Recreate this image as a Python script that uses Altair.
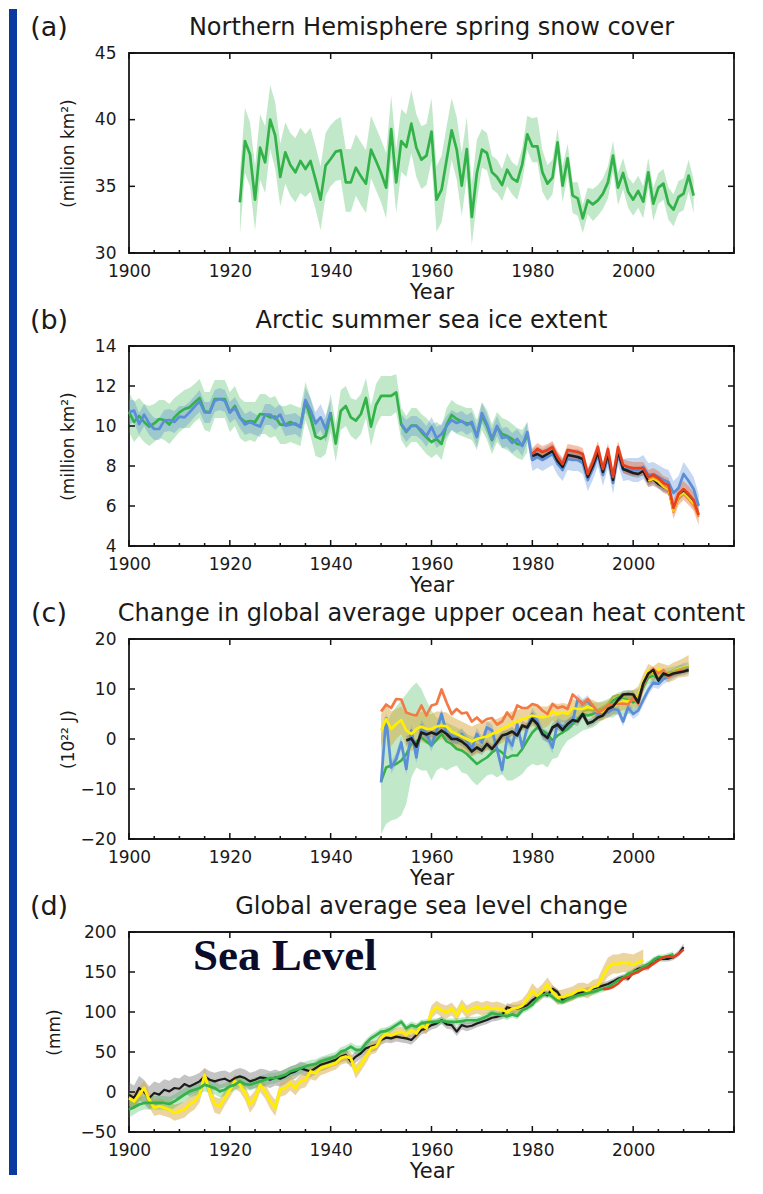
import altair as alt
import pandas as pd

# ---------------- texts / axes ----------------
PANEL_LABELS = ["(a)", "(b)", "(c)", "(d)"]
PANEL_TITLES = ["Northern Hemisphere spring snow cover",
                "Arctic summer sea ice extent",
                "Change in global average upper ocean heat content",
                "Global average sea level change"]
Y_TITLES = ["(million km²)", "(million km²)", "(10²² J)", "(mm)"]
Y_DOMAINS = [[30, 45], [4, 14], [-20, 20], [-50, 200]]
Y_TICKS = [[30, 35, 40, 45], [4, 6, 8, 10, 12, 14], [-20, -10, 0, 10, 20], [-50, 0, 50, 100, 150, 200]]
X_LABELS = [1900, 1920, 1940, 1960, 1980, 2000]
X_MAJOR = [1900, 1920, 1940, 1960, 1980, 2000, 2020]
X_MINOR = [1905, 1910, 1915, 1925, 1930, 1935, 1945, 1950, 1955, 1965, 1970, 1975,
           1985, 1990, 1995, 2005, 2010, 2015]
ANNOTATION = "Sea Level"

# ---------------- (a) snow cover ----------------
SNOW_YEARS = list(range(1922, 2013))
SNOW = [33.8, 38.4, 37.4, 34.0, 37.9, 36.8, 40.0, 38.8, 35.7, 37.55,
        36.6, 36.05, 36.9, 36.3, 36.9, 35.5, 34.0, 36.55, 37.05, 37.6,
        37.7, 35.3, 35.3, 36.4, 35.75, 35.2, 37.75, 36.9, 36.0, 34.9,
        39.3, 35.3, 38.4, 37.95, 39.7, 37.9, 37.0, 37.3, 39.1, 34.0,
        34.75, 37.0, 39.2, 37.75, 35.05, 37.8, 32.7, 36.0, 37.75, 37.5,
        36.05, 35.7, 35.1, 36.25, 35.6, 35.35, 36.65, 38.9, 38.0, 38.0,
        36.05, 35.2, 35.65, 38.3, 35.05, 37.1, 34.3, 34.1, 32.6, 33.95,
        33.65, 33.95, 34.45, 35.3, 37.3, 34.9, 36.0, 34.6, 34.0, 34.65,
        33.85, 36.05, 33.7, 34.9, 35.2, 33.7, 33.25, 34.2, 34.45, 35.8,
        34.3]
SNOW_HI = [36.0, 40.9, 39.8, 36.5, 40.4, 39.5, 42.6, 41.3, 38.2, 39.8,
           39.0, 38.6, 39.4, 38.9, 39.4, 38.0, 36.5, 39.0, 39.6, 40.0,
           40.2, 37.8, 37.8, 38.9, 38.3, 37.7, 40.3, 39.4, 38.5, 37.5,
           41.8, 37.8, 40.8, 40.4, 42.2, 40.4, 39.5, 39.7, 41.6, 36.5,
           37.3, 39.5, 41.6, 40.2, 37.5, 40.2, 35.2, 38.5, 39.3, 39.0,
           37.3, 37.0, 36.3, 37.5, 36.8, 36.5, 37.9, 40.3, 40.1, 40.2,
           37.7, 36.6, 37.0, 39.3, 36.5, 38.2, 35.3, 35.3, 33.6, 34.9,
           34.8, 35.1, 35.6, 36.5, 38.4, 36.0, 37.1, 35.7, 35.2, 35.8,
           35.0, 37.1, 34.9, 36.0, 36.3, 34.9, 34.4, 35.4, 35.6, 37.0,
           35.5]
SNOW_LO = [31.4, 36.0, 35.0, 31.7, 35.5, 34.5, 37.8, 36.3, 33.5, 35.2,
           34.3, 33.8, 34.5, 34.2, 34.6, 33.3, 31.7, 34.3, 35.0, 35.4,
           35.5, 33.1, 33.1, 34.3, 33.6, 33.0, 35.6, 34.7, 33.8, 32.6,
           37.1, 33.0, 36.1, 35.7, 37.5, 35.7, 34.8, 35.1, 36.9, 31.6,
           32.3, 34.7, 37.0, 35.5, 32.8, 35.6, 30.6, 33.9, 36.4, 36.2,
           34.8, 34.5, 33.9, 35.0, 34.4, 34.0, 35.4, 37.7, 36.8, 36.8,
           34.6, 33.9, 34.4, 37.2, 33.8, 35.8, 33.0, 32.8, 31.5, 32.9,
           32.4, 32.8, 33.3, 34.1, 36.1, 33.6, 34.8, 33.4, 32.8, 33.4,
           32.6, 34.9, 32.4, 33.7, 34.0, 32.5, 32.0, 33.0, 33.2, 34.6,
           33.0]

# ---------------- (b) Arctic sea ice ----------------
ICE_GREEN_YEARS = list(range(1900, 1980))
ICE_GREEN = [10.7, 10.2, 10.5, 10.2, 9.97, 10.13, 10.35, 10.3, 10.07, 10.43,
             10.68, 10.85, 10.93, 11.18, 11.4, 10.73, 10.68, 11.35, 11.35, 11.35,
             10.68, 11.0, 10.43, 10.2, 10.25, 10.2, 10.6, 10.57, 10.43, 10.47,
             10.07, 10.07, 10.2, 10.07, 9.97, 11.26, 10.43, 9.47, 9.36, 9.52,
             10.65, 9.12, 10.75, 11.0, 10.43, 10.27, 10.6, 11.4, 9.97, 11.05,
             11.51, 11.51, 11.51, 11.68, 10.07, 9.7, 10.02, 10.02, 9.7, 9.44,
             9.2, 9.35, 9.1, 10.07, 10.55, 10.35, 10.23, 10.13, 10.1, 9.5,
             10.5, 10.0, 9.3, 9.95, 9.6, 9.5, 9.35, 9.1, 9.05, 9.5]
ICE_GREEN_HI = [11.7, 11.2, 11.4, 11.1, 11.0, 11.1, 11.3, 11.3, 11.1, 11.4,
                11.6, 11.8, 11.9, 12.1, 12.35, 11.7, 11.7, 12.3, 12.3, 12.3,
                11.7, 12.0, 11.4, 11.2, 11.2, 11.2, 11.6, 11.6, 11.4, 11.5,
                11.0, 11.0, 11.1, 11.0, 10.9, 12.2, 11.4, 10.4, 10.2, 10.4,
                11.6, 10.1, 11.8, 12.0, 11.4, 11.3, 11.6, 12.4, 11.0, 12.1,
                12.5, 12.5, 12.5, 12.6, 10.9, 10.5, 10.9, 10.9, 10.6, 10.4,
                10.1, 10.2, 10.0, 10.9, 11.3, 11.1, 11.0, 10.9, 10.9, 10.3,
                11.2, 10.8, 10.1, 10.7, 10.4, 10.3, 10.1, 9.9, 9.8, 10.2]
ICE_GREEN_LO = [9.7, 9.2, 9.5, 9.2, 9.0, 9.2, 9.4, 9.3, 9.1, 9.4,
                9.7, 9.9, 9.9, 10.2, 10.4, 9.8, 9.7, 10.4, 10.4, 10.4,
                9.7, 10.0, 9.4, 9.2, 9.3, 9.2, 9.6, 9.6, 9.4, 9.5,
                9.1, 9.1, 9.2, 9.1, 9.0, 10.3, 9.5, 8.5, 8.4, 8.6,
                9.7, 8.2, 9.8, 10.0, 9.5, 9.3, 9.6, 10.4, 9.0, 10.0,
                10.5, 10.5, 10.5, 10.7, 9.3, 8.9, 9.2, 9.2, 8.9, 8.6,
                8.4, 8.6, 8.3, 9.3, 9.8, 9.6, 9.5, 9.4, 9.3, 8.8,
                9.8, 9.3, 8.6, 9.2, 8.9, 8.8, 8.6, 8.4, 8.3, 8.7]
ICE_BLUE1_YEARS = list(range(1900, 1941))
ICE_BLUE1 = [10.7,
             10.77, 10.1, 10.57, 10.13, 9.85, 9.85, 10.27, 10.3, 10.2, 10.47,
             10.43, 10.68, 10.97, 11.23, 10.68, 10.68, 11.26, 11.35, 11.26, 10.68,
             10.9, 10.43, 10.07, 10.2, 10.07, 9.97, 10.57, 10.57, 10.35, 10.57,
             10.02, 10.07, 10.13, 9.93, 11.3, 10.8, 10.13, 10.43, 9.85, 10.68]
ICE_BLUE1_HI = [11.3,
                11.3, 10.65, 11.1, 10.7, 10.4, 10.4, 10.8, 10.85, 10.75, 11.0,
                11.0, 11.2, 11.5, 11.8, 11.2, 11.2, 11.8, 11.9, 11.8, 11.2,
                11.45, 11.0, 10.6, 10.75, 10.6, 10.5, 11.1, 11.1, 10.9, 11.1,
                10.55, 10.6, 10.65, 10.45, 11.9, 11.4, 10.7, 11.1, 10.5, 11.3]
ICE_BLUE1_LO = [10.1,
                10.2, 9.55, 10.0, 9.55, 9.3, 9.3, 9.7, 9.75, 9.65, 9.9,
                9.9, 10.15, 10.45, 10.7, 10.15, 10.15, 10.7, 10.8, 10.7, 10.15,
                10.35, 9.9, 9.55, 9.65, 9.55, 9.45, 10.05, 10.05, 9.8, 10.05,
                9.5, 9.55, 9.6, 9.4, 10.7, 10.2, 9.5, 9.8, 9.2, 10.0]
ICE_BLUE2_YEARS = list(range(1954, 2014))
ICE_BLUE2 = [10.1, 9.75, 10.0, 10.0, 9.8, 9.5, 9.95, 9.4, 9.6, 10.0,
             10.3, 10.15, 10.25, 10.05, 10.2, 9.45, 10.65, 10.1, 9.35, 10.0,
             9.4, 9.45, 9.15, 9.35, 9.0, 9.7,
             8.3, 8.45, 8.3, 8.45, 8.6, 8.1, 7.8, 8.35, 8.3, 8.3,
             8.15, 7.3, 7.85, 8.55, 7.55, 8.45, 7.15, 8.6, 7.8, 7.85,
             7.8, 7.8, 7.95, 7.55, 7.6, 7.45, 7.3, 7.2, 6.65, 6.9,
             7.6, 7.25, 6.85, 6.0]
ICE_BLUE2_HI = [10.6, 10.3, 10.5, 10.5, 10.3, 10.0, 10.45, 9.95, 10.1, 10.5,
                10.8, 10.65, 10.75, 10.55, 10.7, 10.0, 11.15, 10.6, 9.85, 10.5,
                9.9, 9.95, 9.65, 9.85, 9.5, 10.2,
                8.85, 9.0, 8.85, 9.0, 9.15, 8.65, 8.35, 8.9, 8.85, 8.85,
                8.7, 7.85, 8.4, 9.1, 8.1, 9.0, 7.7, 9.15, 8.35, 8.4,
                8.4, 8.4, 8.55, 8.15, 8.2, 8.05, 7.9, 7.8, 7.25, 7.5,
                8.2, 7.85, 7.45, 6.6]
ICE_BLUE2_LO = [9.6, 9.2, 9.5, 9.5, 9.3, 8.95, 9.45, 8.9, 9.1, 9.5,
                9.8, 9.65, 9.75, 9.55, 9.7, 8.95, 10.15, 9.6, 8.85, 9.5,
                8.9, 8.95, 8.65, 8.85, 8.5, 9.2,
                7.75, 7.9, 7.75, 7.9, 8.05, 7.55, 7.25, 7.8, 7.75, 7.75,
                7.6, 6.75, 7.3, 8.0, 7.0, 7.9, 6.6, 8.05, 7.25, 7.3,
                7.2, 7.2, 7.35, 6.95, 7.0, 6.85, 6.7, 6.6, 6.05, 6.3,
                7.0, 6.65, 6.25, 5.4]
ICE_RED_YEARS = list(range(1980, 2014))
ICE_RED = [8.6, 8.85, 8.7, 8.8, 8.95, 8.45, 8.1, 8.8, 8.75, 8.7,
           8.6, 7.6, 8.2, 8.95, 7.85, 8.85, 7.45, 8.95, 8.05, 7.95,
           7.9, 7.9, 7.9, 7.45, 7.55, 7.4, 7.15, 7.05, 5.9, 6.6,
           6.85, 6.6, 6.3, 5.55]
ICE_RED_HI = [8.9, 9.15, 9.0, 9.1, 9.25, 8.75, 8.4, 9.1, 9.05, 9.0,
              8.9, 7.9, 8.5, 9.25, 8.15, 9.15, 7.75, 9.25, 8.35, 8.25,
              8.2, 8.2, 8.2, 7.8, 7.9, 7.75, 7.5, 7.4, 6.3, 7.0,
              7.25, 7.0, 6.7, 5.95]
ICE_RED_LO = [8.2, 8.45, 8.3, 8.4, 8.55, 8.05, 7.7, 8.4, 8.35, 8.3,
              8.2, 7.2, 7.8, 8.55, 7.45, 8.45, 7.05, 8.55, 7.65, 7.55,
              7.5, 7.5, 7.5, 6.95, 7.05, 6.9, 6.65, 6.55, 5.35, 6.05,
              6.3, 6.05, 5.75, 5.05]
ICE_BLACK_YEARS = list(range(1980, 2013))
ICE_BLACK = [8.5, 8.6, 8.45, 8.6, 8.75, 8.25, 7.95, 8.55, 8.5, 8.45,
             8.35, 7.45, 8.0, 8.7, 7.7, 8.6, 7.3, 8.75, 7.85, 7.75,
             7.65, 7.6, 7.75, 7.25, 7.35, 7.1, 6.95, 6.85, 5.8, 6.45,
             6.7, 6.45, 6.1]
ICE_BLACK_HI = [8.7, 8.8, 8.65, 8.8, 8.95, 8.45, 8.15, 8.75, 8.7, 8.65,
                8.55, 7.65, 8.2, 8.9, 7.9, 8.8, 7.5, 8.95, 8.05, 7.95,
                7.85, 7.8, 7.95, 7.45, 7.55, 7.3, 7.15, 7.05, 6.0, 6.65,
                6.9, 6.65, 6.3]
ICE_BLACK_LO = [8.3, 8.4, 8.25, 8.4, 8.55, 8.05, 7.75, 8.35, 8.3, 8.25,
                8.15, 7.25, 7.8, 8.5, 7.5, 8.4, 7.1, 8.55, 7.65, 7.55,
                7.45, 7.4, 7.55, 7.05, 7.15, 6.9, 6.75, 6.65, 5.6, 6.25,
                6.5, 6.25, 5.9]
ICE_YELLOW_YEARS = list(range(2003, 2013))
ICE_YELLOW = [7.25, 7.35, 7.2, 6.95, 6.8, 5.75, 6.45, 6.65, 6.4, 6.1]
ICE_ORANGE_YEARS = list(range(2003, 2014))
ICE_ORANGE = [7.35, 7.45, 7.3, 7.05, 6.9, 5.7, 6.4, 6.6, 6.35, 6.05, 5.45]

# ---------------- (c) ocean heat content ----------------
OHC_YEARS = list(range(1950, 2012))
OHC_GREEN = [-8.5, -5.7, -5.3, -5.0, -4.3, -3.0, -1.0, -0.5, 0.3, -0.5,
             -1.3, -0.2, 1.0, -0.5, -1.0, -2.0, -2.3, -3.0, -4.0, -5.0,
             -4.3, -3.7, -2.7, -2.0, -2.7, -3.8, -3.3, -3.3, -2.0, -0.3,
             1.3, 2.3, 1.7, 1.0, -0.3, 0.7, 1.3, 2.0, 3.0, 4.0,
             5.0, 4.7, 5.0, 5.5, 5.8, 6.7, 7.7, 8.3, 8.3, 8.0,
             7.3, 8.0, 10.3, 12.3, 12.7, 12.0, 12.7, 13.0, 13.3, 13.7,
             13.9, 14.0]
OHC_GREEN_HI = [1.0, 3.0, 5.0, 6.5, 7.7, 9.0, 10.3, 11.3, 10.0, 7.7,
                5.7, 4.3, 3.8, 3.3, 2.8, 2.3, 1.8, 1.0, 0.6, 0.3,
                0.6, 1.0, 1.0, 1.0, 1.3, 1.7, 1.7, 1.7, 2.5, 3.3,
                3.8, 4.3, 4.3, 4.3, 4.5, 4.7, 5.0, 5.3, 6.0, 6.7,
                7.0, 7.3, 7.3, 7.3, 7.6, 8.0, 8.6, 9.3, 9.5, 9.7,
                9.8, 10.0, 11.5, 13.3, 13.5, 13.7, 14.0, 14.3, 14.5, 14.7,
                14.8, 15.0]
OHC_GREEN_LO = [-19.0, -17.0, -16.3, -16.0, -15.3, -13.0, -7.7, -5.7, -6.3, -6.3,
                -8.3, -6.3, -5.7, -6.3, -5.7, -5.3, -6.7, -7.0, -8.3, -9.3,
                -8.3, -7.3, -7.0, -7.7, -7.0, -8.3, -8.3, -7.7, -7.0, -5.7,
                -5.0, -5.3, -5.0, -5.7, -4.0, -3.7, -1.7, -0.3, 0.3, 1.0,
                1.7, 2.0, 2.3, 3.0, 4.0, 4.3, 4.3, 5.0, 4.7, 5.0,
                5.3, 6.0, 9.0, 11.0, 11.3, 11.0, 11.7, 12.3, 12.7, 13.0,
                13.3, 13.3]
OHC_BLUE = [-8.7, 4.2, -5.7, -4.0, -0.7, -6.0, 1.7, -3.7, 2.7, 1.0,
            -1.3, 1.7, 5.0, 1.0, 0.7, 0.0, 1.0, -0.3, -2.0, 1.0,
            -0.7, 2.3, 1.7, -2.0, -6.2, 0.3, -1.3, 2.9, -1.7, 2.3,
            5.0, 3.5, 1.0, 0.5, -1.7, 3.1, 2.5, 2.7, 3.5, 8.0,
            7.0, 7.8, 6.0, 5.0, 5.7, 5.3, 6.0, 5.8, 3.5, 6.3,
            5.0, 5.7, 7.8, 9.8, 11.3, 11.0, 12.0, 12.5, 13.1, 13.7,
            14.2, 14.3]
OHC_BLUE_HI = [-7.5, 5.4, -4.5, -2.8, 0.5, -4.8, 2.9, -2.5, 3.9, 2.2,
               -0.1, 2.9, 6.2, 2.2, 1.9, 1.2, 2.2, 0.9, -0.8, 2.2,
               0.5, 3.5, 2.9, -0.8, -5.0, 1.5, -0.1, 4.1, -0.5, 3.5,
               6.2, 4.7, 2.2, 1.7, -0.5, 4.3, 3.7, 3.9, 4.7, 9.0,
               8.0, 8.8, 7.0, 6.0, 6.7, 6.3, 7.0, 6.8, 4.5, 7.3,
               6.0, 6.7, 8.8, 10.8, 12.3, 12.0, 13.0, 13.5, 14.1, 14.7,
               15.2, 15.3]
OHC_BLUE_LO = [-9.9, 3.0, -6.9, -5.2, -1.9, -7.2, 0.5, -4.9, 1.5, -0.2,
               -2.5, 0.5, 3.8, -0.2, -0.5, -1.2, -0.2, -1.5, -3.2, -0.2,
               -1.9, 1.1, 0.5, -3.2, -7.4, -0.9, -2.5, 1.7, -2.9, 1.1,
               3.8, 2.3, -0.2, -0.7, -2.9, 1.9, 1.3, 1.5, 2.3, 7.0,
               6.0, 6.8, 5.0, 4.0, 4.7, 4.3, 5.0, 4.8, 2.5, 5.3,
               4.0, 4.7, 6.8, 8.8, 10.3, 10.0, 11.0, 11.5, 12.1, 12.7,
               13.2, 13.3]
OHC_YELLOW = [1.7, 4.0, 2.0, 3.0, 3.8, 1.7, 1.0, 2.0, 2.5, 2.0,
              2.0, 2.5, 2.7, 2.5, 1.5, 1.0, 0.5, 0.0, -0.5, 0.0,
              0.3, 0.5, 1.0, 1.5, 2.0, 2.5, 3.1, 3.5, 4.0, 4.3,
              4.7, 4.5, 4.3, 4.5, 5.5, 5.0, 5.3, 5.0, 6.2, 6.0,
              6.0, 6.5, 6.0, 5.5, 5.5, 6.0, 6.5, 7.0, 7.5, 7.5,
              8.0, 8.5, 11.3, 13.7, 13.0, 14.0, 13.5, 13.0, 13.5, 14.0,
              14.3, 14.7]
OHC_YELLOW_HI = [5.0, 7.0, 5.5, 6.0, 6.5, 5.0, 4.5, 5.0, 5.5, 5.0,
                 5.0, 5.5, 5.5, 5.3, 4.5, 4.0, 3.5, 3.0, 2.5, 3.0,
                 3.3, 3.5, 3.8, 4.0, 4.5, 5.0, 5.5, 5.8, 6.2, 6.5,
                 6.8, 6.7, 6.5, 6.5, 7.3, 7.0, 7.2, 7.0, 8.0, 7.8,
                 7.8, 8.2, 7.8, 7.3, 7.3, 7.7, 8.2, 8.7, 9.2, 9.3,
                 9.8, 10.5, 13.0, 15.0, 14.5, 15.3, 15.0, 14.7, 15.3, 15.7,
                 16.2, 16.8]
OHC_YELLOW_LO = [-1.5, 1.0, -1.5, 0.0, 1.0, -1.5, -2.5, -1.0, -0.5, -1.0,
                 -1.0, -0.5, 0.0, -0.5, -1.5, -2.0, -2.5, -3.0, -3.5, -3.0,
                 -2.7, -2.3, -1.8, -1.3, -0.8, -0.2, 0.7, 1.2, 1.8, 2.1,
                 2.6, 2.3, 2.1, 2.5, 3.7, 3.0, 3.4, 3.0, 4.4, 4.2,
                 4.2, 4.8, 4.2, 3.7, 3.7, 4.3, 4.8, 5.3, 5.8, 5.7,
                 6.2, 6.5, 9.6, 12.3, 11.5, 12.7, 12.0, 11.3, 11.7, 12.3,
                 12.4, 12.6]
OHC_ORANGE = [5.5, 6.9, 6.2, 8.0, 7.9, 5.3, 4.9, 4.7, 6.7, 4.7,
              6.7, 7.0, 9.9, 7.3, 5.0, 6.0, 5.1, 5.3, 3.5, 4.3,
              3.3, 4.0, 4.2, 2.9, 3.5, 5.3, 4.0, 6.7, 6.2, 6.2,
              7.0, 6.7, 5.7, 5.0, 7.0, 6.2, 6.5, 6.0, 8.9, 8.0,
              6.9, 8.0, 6.7, 5.3, 5.8, 6.7, 7.0, 7.0, 7.1, 6.9,
              8.3, 7.0, 10.7, 13.0, 14.0, 13.1, 13.8, 12.3, 13.0, 13.5,
              13.8, 13.8]
OHC_BLACK_YEARS = list(range(1955, 2012))
OHC_BLACK = [-0.3, 0.1, -1.5, 1.3, 0.9,
             1.3, 0.9, 1.7, 1.0, 0.0, 0.0, -0.5, -1.3, -2.5, -1.7,
             -2.3, -1.0, -2.0, -0.7, 0.7, 1.0, 1.5, 0.7, 2.7, 2.3,
             4.0, 3.0, 1.0, 0.2, 2.3, 2.9, 1.8, 3.0, 3.8, 3.5,
             5.0, 3.1, 3.5, 4.3, 4.7, 6.0, 6.5, 7.8, 8.9, 9.0,
             8.9, 7.3, 11.1, 13.1, 13.8, 11.7, 13.1, 12.7, 13.1, 13.3,
             13.5, 13.8]
OHC_BLACK_HI = [0.6, 1.0, -0.6, 2.2, 1.8,
                2.2, 1.8, 2.6, 1.9, 0.9, 0.9, 0.4, -0.4, -1.6, -0.8,
                -1.4, -0.1, -1.1, 0.2, 1.6, 1.9, 2.4, 1.6, 3.6, 3.2,
                4.9, 3.9, 1.9, 1.1, 3.2, 3.8, 2.7, 3.9, 4.7, 4.4,
                5.8, 3.9, 4.3, 5.1, 5.5, 6.8, 7.3, 8.6, 9.7, 9.8,
                9.6, 8.0, 11.8, 13.8, 14.5, 12.4, 13.8, 13.4, 13.8, 14.0,
                14.2, 14.5]
OHC_BLACK_LO = [-1.2, -0.8, -2.4, 0.4, 0.0,
                0.4, 0.0, 0.8, 0.1, -0.9, -0.9, -1.4, -2.2, -3.4, -2.6,
                -3.2, -1.9, -2.9, -1.6, -0.2, 0.1, 0.6, -0.2, 1.8, 1.4,
                3.1, 2.1, 0.1, -0.7, 1.4, 2.0, 0.9, 2.1, 2.9, 2.6,
                4.2, 2.3, 2.7, 3.5, 3.9, 5.2, 5.7, 7.0, 8.1, 8.2,
                8.2, 6.6, 10.4, 12.4, 13.1, 11.0, 12.4, 12.0, 12.4, 12.6,
                12.8, 13.1]
OHC_OLIVE_YEARS = list(range(1990, 2012))
OHC_OLIVE = [5.5, 5.8, 5.7, 5.8, 6.3, 7.0, 8.5, 8.8, 8.5, 8.2, 7.8,
             8.3, 10.8, 12.8, 13.0, 12.3, 13.0, 13.3, 13.5, 13.9, 14.2, 14.5]

# ---------------- (d) sea level ----------------
SL_BLACK_YEARS = list(range(1900, 2011))
SL_BLACK = [-3.3, -7.5, 5.0, 0.0, -7.5, -1.2, -3.3, 2.9, 0.8, 5.0,
            4.1, 9.9, 7.0, 9.9, 13.3, 19.5, 15.3, 13.3, 15.3, 16.6,
            13.3, 17.4, 19.5, 17.4, 13.3, 15.3, 18.2, 17.4, 15.3, 18.2,
            16.6, 19.5, 23.6, 25.7, 29.8, 27.7, 25.7, 29.8, 34.0, 36.0,
            38.1, 40.2, 44.3, 46.4, 38.1, 44.3, 48.4, 54.7, 56.7, 58.8,
            65.0, 67.9, 67.0, 69.2, 68.0, 67.0, 65.0, 71.2, 77.4, 79.5,
            83.6, 85.7, 89.9, 84.5, 83.6, 75.4, 83.6, 81.6, 82.8, 85.7,
            87.8, 89.9, 92.8, 94.0, 96.0, 106.0, 104.0, 104.0, 106.0, 108.5,
            114.7, 118.8, 125.0, 121.0, 129.0, 125.0, 114.7, 116.8, 118.8, 123.0,
            125.0, 127.0, 129.0, 131.0, 133.0, 135.0, 138.0, 141.6, 143.7, 141.6,
            150.0, 154.0, 156.0, 156.0, 164.0, 166.5, 166.5, 166.5, 168.5, 172.7,
            181.0]
SL_BLACK_HI = [12, 8, 20, 15, 7, 13, 11, 16, 14, 18,
               17, 22, 19, 21, 24, 30, 26, 24, 26, 27,
               24, 28, 30, 28, 24, 26, 29, 28, 26, 28,
               26, 29, 32, 34, 38, 36, 34, 38, 42, 44,
               45, 47, 51, 53, 45, 51, 55, 61, 63, 65,
               71, 74, 73, 75, 74, 73, 71, 77, 83, 85,
               89, 91, 95, 90, 89, 81, 89, 87, 88, 91,
               93, 95, 98, 99, 101, 111, 109, 109, 111, 113,
               119, 123, 129, 125, 133, 129, 119, 121, 123, 127,
               129, 131, 133, 135, 137, 139, 142, 145, 147, 145,
               154, 158, 160, 160, 168, 170, 170, 170, 172, 177,
               186]
SL_BLACK_LO = [-18, -22, -10, -15, -22, -16, -18, -11, -13, -8,
               -8, -2, -5, -2, 2, 8, 4, 2, 4, 6,
               3, 7, 9, 7, 3, 5, 8, 7, 5, 8,
               7, 10, 15, 17, 22, 20, 18, 22, 26, 28,
               31, 33, 37, 39, 31, 37, 42, 48, 50, 52,
               59, 62, 61, 63, 62, 61, 59, 65, 72, 74,
               78, 80, 85, 79, 78, 70, 78, 76, 78, 81,
               83, 85, 88, 89, 91, 101, 99, 99, 101, 104,
               110, 115, 121, 117, 125, 121, 111, 113, 115, 119,
               121, 123, 125, 127, 129, 131, 134, 138, 140, 138,
               146, 150, 152, 152, 160, 163, 163, 163, 165, 169,
               176]
SL_YELLOW_YEARS = list(range(1900, 2003))
SL_YELLOW = [-7.5, -11.6, -3.3, 5.0, -9.5, -19.9, -17.8, -19.9, -21.9, -26.1,
             -24.0, -21.9, -15.7, -11.6, -3.3, 21.5, 0.8, -15.7, -17.8, -7.5,
             2.9, 13.3, 9.1, -1.2, -15.7, -7.5, 9.1, 0.8, -11.6, -19.9,
             2.9, 5.0, 11.2, 5.0, 13.3, 15.3, 25.7, 23.6, 29.8, 31.9,
             34.0, 36.0, 42.2, 44.3, 42.2, 25.7, 34.0, 44.3, 54.7, 56.7,
             67.1, 73.3, 71.2, 73.3, 75.4, 71.2, 77.4, 73.3, 83.6, 79.5,
             100, 106, 102, 100, 104, 96, 108, 100, 104, 106,
             104, 106, 104, 105, 103, 100, 104, 105, 108, 116,
             127, 120, 126, 134, 125, 118, 119, 121, 123, 127,
             128, 126, 131, 133, 145, 156, 160, 160, 162, 161,
             159, 162, 165]
SL_YELLOW_HI = [2, -2, 6, 14, 0, -10, -8, -10, -12, -16,
                -14, -12, -6, -2, 6, 30, 10, -6, -8, 2,
                12, 22, 18, 8, -6, 2, 18, 10, -2, -10,
                12, 14, 20, 14, 22, 24, 34, 32, 38, 40,
                42, 44, 50, 52, 50, 34, 42, 52, 62, 64,
                74, 80, 78, 80, 82, 78, 84, 80, 90, 86,
                108, 114, 110, 108, 112, 104, 116, 108, 112, 114,
                112, 114, 112, 113, 111, 108, 112, 113, 116, 124,
                136, 129, 135, 143, 134, 127, 128, 130, 132, 136,
                137, 135, 140, 142, 156, 168, 172, 172, 174, 173,
                172, 175, 178]
SL_YELLOW_LO = [-17, -21, -13, -4, -19, -30, -28, -30, -32, -36,
                -34, -32, -26, -22, -13, 12, -9, -26, -28, -17,
                -7, 4, 0, -10, -26, -17, 0, -8, -21, -30,
                -6, -4, 2, -4, 4, 6, 16, 14, 21, 23,
                26, 28, 34, 36, 34, 17, 26, 36, 47, 49,
                60, 66, 64, 66, 68, 64, 70, 66, 76, 72,
                92, 98, 94, 92, 96, 88, 100, 92, 96, 98,
                96, 98, 96, 97, 95, 92, 96, 97, 100, 108,
                118, 111, 117, 125, 116, 109, 110, 112, 114, 118,
                119, 117, 122, 124, 134, 144, 148, 148, 150, 149,
                146, 149, 152]
SL_GREEN_YEARS = list(range(1900, 2009))
SL_GREEN = [-22.0, -19.0, -15.7, -13.7, -13.7, -13.7, -13.7, -13.7, -15.0, -11.6,
            -7.5, -3.3, 0.8, 2.9, 5.0, 9.1, 7.0, 5.0, 0.8, 2.9,
            7.0, 9.1, 13.3, 9.9, 9.1, 11.2, 13.3, 15.3, 17.4, 17.4,
            19.5, 21.5, 25.7, 27.7, 29.8, 31.9, 34.0, 34.8, 38.1, 40.2,
            42.2, 44.3, 50.5, 52.6, 56.7, 52.6, 52.6, 60.9, 67.1, 71.2,
            75.4, 76.2, 79.5, 83.6, 87.8, 79.5, 83.6, 81.6, 85.7, 87.0,
            87.8, 87.6, 89.0, 87.8, 87.6, 87.6, 88.5, 89.7, 89.7, 89.7,
            92.0, 94.6, 98.8, 97.0, 96.0, 94.6, 97.0, 95.0, 102.0, 105.0,
            109.3, 116.8, 121.0, 123.0, 118.8, 114.0, 112.4, 116.0, 118.6, 120.7,
            122.0, 123.6, 125.0, 127.0, 129.0, 131.0, 135.0, 139.5, 143.0, 147.8,
            150.0, 152.0, 156.0, 160.0, 164.4, 168.5, 168.0, 170.0, 172.3]
SL_GREEN_HI = [-12, -10, -7, -5, -5, -5, -5, -5, -6, -3,
               1, 5, 9, 11, 13, 17, 15, 13, 9, 11,
               14, 16, 20, 17, 16, 18, 20, 22, 24, 24,
               26, 28, 32, 34, 36, 38, 40, 41, 44, 46,
               48, 50, 56, 58, 62, 58, 58, 66, 72, 76,
               80, 81, 84, 88, 92, 84, 88, 86, 90, 91,
               92, 92, 93, 92, 92, 92, 93, 94, 94, 94,
               96, 99, 103, 101, 100, 99, 101, 99, 106, 109,
               113, 121, 125, 127, 123, 118, 116, 120, 122, 124,
               126, 127, 129, 131, 133, 135, 139, 143, 147, 151,
               154, 156, 160, 164, 168, 172, 172, 174, 176]
SL_GREEN_LO = [-32, -28, -24, -22, -22, -22, -22, -22, -24, -20,
               -16, -12, -7, -5, -3, 1, -1, -3, -7, -5,
               0, 2, 6, 3, 2, 4, 6, 8, 10, 11,
               13, 15, 19, 21, 23, 25, 28, 29, 32, 34,
               36, 38, 45, 47, 51, 47, 47, 55, 62, 66,
               70, 71, 75, 79, 83, 75, 79, 77, 81, 83,
               83, 83, 85, 83, 83, 83, 84, 85, 85, 85,
               88, 90, 95, 93, 92, 90, 93, 91, 98, 101,
               105, 112, 117, 119, 115, 110, 109, 112, 115, 117,
               118, 120, 121, 123, 125, 127, 131, 136, 139, 144,
               146, 148, 152, 156, 161, 165, 164, 166, 168]
SL_RED_YEARS = list(range(1994, 2011))
SL_RED = [128.4, 129.0, 131.3, 135.4, 141.6, 143.7, 147.8, 150.0, 154.0, 156.0,
          160.2, 164.4, 168.5, 169.8, 168.5, 172.7, 178.0]

# ---------------- styling ----------------
W, H = 605, 200
PITCH = 293
TXT = "#1a1a1a"
STRIP = "#0a3aa0"
SANS = "DejaVu Sans"

GREEN = "#33b249"
BLUE = "#5b8ed6"
RED = "#e8401c"
BLACK = "#1c1c1c"
ORANGE_C = "#f47a45"
YELLOW = "#ffee00"
OLIVE = "#a9b43c"
ORANGE_B = "#f28c2a"
YELLOW_B = "#f7d51c"
TAN = "#d8aa40"
GRAYB = "#6b6b6b"

XSCALE = alt.Scale(domain=[1900, 2020], nice=False, zero=False)
XAXIS = alt.Axis(title="Year", values=X_LABELS, format="d", ticks=False, domain=False,
                 grid=False, labelFlush=False, labelOverlap=False, labelPadding=10,
                 labelFont=SANS, labelFontSize=17, labelColor=TXT,
                 titleFont=SANS, titleFontSize=21, titleFontWeight="normal",
                 titleColor=TXT, titlePadding=2)
ONE = pd.DataFrame({"k": [0]})


def frame(years, **cols):
    n = min([len(years)] + [len(v) for v in cols.values()])
    d = {"year": list(years)[:n]}
    for k, v in cols.items():
        d[k] = list(v)[:n]
    return pd.DataFrame(d)


def xenc():
    return alt.X("year:Q", scale=XSCALE, axis=XAXIS)


def make_panel(i, series, extra=None, strip_end=249):
    yscale = alt.Scale(domain=Y_DOMAINS[i], nice=False, zero=False)
    title_x = -75 if i == 3 else -61
    yaxis = alt.Axis(title=Y_TITLES[i], values=Y_TICKS[i], format="d", ticks=False,
                     domain=False, grid=False, labelPadding=13,
                     labelFont=SANS, labelFontSize=17, labelColor=TXT,
                     titleFont=SANS, titleFontSize=17,
                     titleFontWeight="normal", titleColor=TXT,
                     titleX=title_x, titleY=H / 2, titleAngle=270,
                     titleAlign="center", titleBaseline="middle")

    layers = [alt.Chart(ONE).mark_rect(color=STRIP).encode(
        x=alt.value(-120), x2=alt.value(-112), y=alt.value(-44), y2=alt.value(strip_end))]

    for s in series:
        if s[0] == "band":
            _, yrs, lo, hi, col, op = s
            df = frame(yrs, lo=lo, hi=hi)
            layers.append(alt.Chart(df).mark_area(color=col, opacity=op).encode(
                x=xenc(), y=alt.Y("lo:Q", scale=yscale, axis=yaxis), y2="hi:Q"))
        else:
            _, yrs, vals, col, sw = s
            df = frame(yrs, v=vals)
            layers.append(alt.Chart(df).mark_line(color=col, strokeWidth=sw,
                                                  strokeJoin="round").encode(
                x=xenc(), y=alt.Y("v:Q", scale=yscale, axis=yaxis)))

    tick_style = dict(color="#111111", strokeWidth=1.5)
    maj = alt.Chart(pd.DataFrame({"year": X_MAJOR})).mark_rule(**tick_style)
    layers.append(maj.encode(x=xenc(), y=alt.value(H), y2=alt.value(H - 6)))
    layers.append(maj.encode(x=xenc(), y=alt.value(0), y2=alt.value(6)))
    layers.append(alt.Chart(pd.DataFrame({"year": X_MINOR})).mark_rule(**tick_style).encode(
        x=xenc(), y=alt.value(H), y2=alt.value(H - 3)))
    ydf = pd.DataFrame({"val": Y_TICKS[i]})
    yt = alt.Chart(ydf).mark_rule(**tick_style)
    layers.append(yt.encode(y=alt.Y("val:Q", scale=yscale, axis=yaxis),
                            x=alt.value(0), x2=alt.value(6)))
    layers.append(yt.encode(y=alt.Y("val:Q", scale=yscale, axis=yaxis),
                            x=alt.value(W - 6), x2=alt.value(W)))

    if extra is not None:
        layers.append(extra)

    layers.append(alt.Chart(ONE).mark_text(
        text=PANEL_LABELS[i], font=SANS, fontSize=27, color=TXT,
        align="center", baseline="middle").encode(x=alt.value(-80), y=alt.value(-25)))
    layers.append(alt.Chart(ONE).mark_text(
        text=PANEL_TITLES[i], font=SANS, fontSize=24, color=TXT,
        align="center", baseline="middle").encode(x=alt.value(W / 2), y=alt.value(-25)))
    return alt.layer(*layers).properties(width=W, height=H)


pa = make_panel(0, [
    ("band", SNOW_YEARS, SNOW_LO, SNOW_HI, GREEN, 0.3),
    ("line", SNOW_YEARS, SNOW, GREEN, 2.7),
])

pb = make_panel(1, [
    ("band", ICE_GREEN_YEARS, ICE_GREEN_LO, ICE_GREEN_HI, GREEN, 0.3),
    ("band", ICE_BLUE1_YEARS, ICE_BLUE1_LO, ICE_BLUE1_HI, BLUE, 0.35),
    ("band", ICE_BLUE2_YEARS, ICE_BLUE2_LO, ICE_BLUE2_HI, BLUE, 0.35),
    ("band", ICE_RED_YEARS, ICE_RED_LO, ICE_RED_HI, "#e8642c", 0.4),
    ("band", ICE_BLACK_YEARS, ICE_BLACK_LO, ICE_BLACK_HI, GRAYB, 0.35),
    ("line", ICE_GREEN_YEARS, ICE_GREEN, GREEN, 2.7),
    ("line", ICE_BLUE1_YEARS, ICE_BLUE1, BLUE, 2.7),
    ("line", ICE_BLUE2_YEARS, ICE_BLUE2, BLUE, 2.7),
    ("line", ICE_BLACK_YEARS, ICE_BLACK, BLACK, 2.5),
    ("line", ICE_ORANGE_YEARS, ICE_ORANGE, ORANGE_B, 2.2),
    ("line", ICE_YELLOW_YEARS, ICE_YELLOW, YELLOW_B, 2.0),
    ("line", ICE_RED_YEARS, ICE_RED, RED, 2.7),
])

pc = make_panel(2, [
    ("band", OHC_YEARS, OHC_GREEN_LO, OHC_GREEN_HI, GREEN, 0.3),
    ("band", OHC_YEARS, OHC_YELLOW_LO, OHC_YELLOW_HI, TAN, 0.5),
    ("band", OHC_YEARS, OHC_BLUE_LO, OHC_BLUE_HI, BLUE, 0.3),
    ("band", OHC_BLACK_YEARS, OHC_BLACK_LO, OHC_BLACK_HI, GRAYB, 0.3),
    ("line", OHC_YEARS, OHC_GREEN, GREEN, 2.5),
    ("line", OHC_YEARS, OHC_BLUE, BLUE, 2.7),
    ("line", OHC_YEARS, OHC_YELLOW, YELLOW, 2.7),
    ("line", OHC_OLIVE_YEARS, OHC_OLIVE, OLIVE, 2.2),
    ("line", OHC_YEARS, OHC_ORANGE, ORANGE_C, 2.7),
    ("line", OHC_BLACK_YEARS, OHC_BLACK, BLACK, 2.7),
])

sea_text = alt.Chart(ONE).mark_text(
    text=ANNOTATION, font="Liberation Serif", fontWeight="bold", fontSize=45,
    color="#0b0b2a", align="left", baseline="alphabetic").encode(
    x=alt.value(64), y=alt.value(38))

pd_ = make_panel(3, [
    ("band", SL_BLACK_YEARS, SL_BLACK_LO, SL_BLACK_HI, GRAYB, 0.4),
    ("band", SL_YELLOW_YEARS, SL_YELLOW_LO, SL_YELLOW_HI, TAN, 0.5),
    ("band", SL_GREEN_YEARS, SL_GREEN_LO, SL_GREEN_HI, GREEN, 0.3),
    ("line", SL_BLACK_YEARS, SL_BLACK, BLACK, 2.2),
    ("line", SL_YELLOW_YEARS, SL_YELLOW, YELLOW, 2.9),
    ("line", SL_GREEN_YEARS, SL_GREEN, GREEN, 2.7),
    ("line", SL_RED_YEARS, SL_RED, RED, 2.5),
], extra=sea_text, strip_end=243)

chart = alt.vconcat(pa, pb, pc, pd_, spacing=PITCH - H, bounds="flush",
                    padding=0, background="white").configure_view(
    stroke="#1a1a1a", strokeWidth=1.8)

chart.save("out.html", embed_options={"renderer": "svg", "actions": False})
